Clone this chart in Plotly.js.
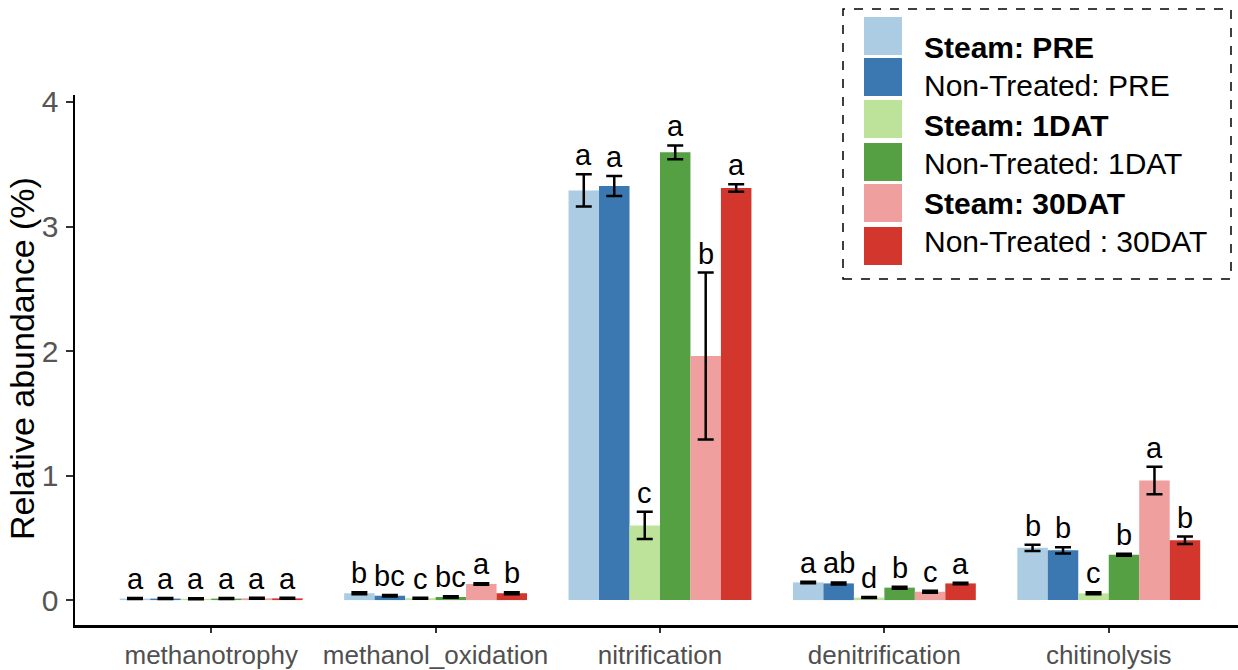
<!DOCTYPE html>
<html>
<head>
<meta charset="utf-8">
<script src="https://cdn.plot.ly/plotly-3.0.1.min.js"></script>
<style>html,body{margin:0;padding:0;background:#fff;}#chart{width:1238px;height:670px;}</style>
</head>
<body>
<div id="chart"></div>
<script>
const categories = ["methanotrophy", "methanol_oxidation", "nitrification", "denitrification", "chitinolysis"];
const seriesNames = ["Steam: PRE", "Non-Treated: PRE", "Steam: 1DAT", "Non-Treated: 1DAT", "Steam: 30DAT", "Non-Treated : 30DAT"];
const boldSeries = [true, false, true, false, true, false];
const colors = ["#abcce2", "#3b77b0", "#bde29a", "#55a043", "#ef9f9d", "#d2362d"];

const steamPRE   = [0.012, 0.055, 3.29, 0.142, 0.42];
const ntPRE      = [0.012, 0.035, 3.325, 0.134, 0.40];
const steam1DAT  = [0.010, 0.015, 0.60, 0.020, 0.054];
const nt1DAT     = [0.012, 0.025, 3.596, 0.100, 0.364];
const steam30DAT = [0.014, 0.130, 1.96, 0.067, 0.96];
const nt30DAT    = [0.014, 0.055, 3.31, 0.134, 0.48];

const errSteamPRE   = [0.004, 0.008, 0.13, 0.006, 0.025];
const errNtPRE      = [0.004, 0.006, 0.08, 0.008, 0.025];
const errSteam1DAT  = [0.004, 0.004, 0.11, 0.004, 0.008];
const errNt1DAT     = [0.004, 0.006, 0.055, 0.008, 0.008];
const errSteam30DAT = [0.004, 0.006, 0.67, 0.008, 0.11];
const errNt30DAT    = [0.004, 0.008, 0.03, 0.006, 0.03];

const lettersSteamPRE   = ["a", "b", "a", "a", "b"];
const lettersNtPRE      = ["a", "bc", "a", "ab", "b"];
const lettersSteam1DAT  = ["a", "c", "c", "d", "c"];
const lettersNt1DAT     = ["a", "bc", "a", "b", "b"];
const lettersSteam30DAT = ["a", "a", "b", "c", "a"];
const lettersNt30DAT    = ["a", "b", "a", "a", "b"];

const values = [steamPRE, ntPRE, steam1DAT, nt1DAT, steam30DAT, nt30DAT];
const errors = [errSteamPRE, errNtPRE, errSteam1DAT, errNt1DAT, errSteam30DAT, errNt30DAT];
const letters = [lettersSteamPRE, lettersNtPRE, lettersSteam1DAT, lettersNt1DAT, lettersSteam30DAT, lettersNt30DAT];

const bargap = 0.185;
const sans = "Liberation Sans, Arial, sans-serif";

const traces = seriesNames.map((name, j) => ({
  type: "bar",
  name: name,
  x: categories,
  y: values[j],
  marker: {color: colors[j], line: {width: 0}},
  error_y: {type: "data", array: errors[j], visible: true, color: "#000", thickness: 2.5, width: 8},
  showlegend: false
}));

const annotations = [];
const nS = seriesNames.length;
const barW = (1 - bargap) / nS;
categories.forEach((c, i) => {
  for (let j = 0; j < nS; j++) {
    annotations.push({
      xref: "x", yref: "y",
      x: i + (j - (nS - 1) / 2) * barW,
      y: values[j][i] + errors[j][i],
      text: letters[j][i],
      showarrow: false,
      xanchor: "center", yanchor: "bottom",
      yshift: 1,
      font: {family: sans, size: 29, color: "#000"}
    });
  }
});

// custom legend + y title (paper coords from the plot area: l=75, w=1163, t=95, h=530)
const L = 75, W = 1163, T = 95, H = 530;
const px = v => (v - L) / W;
const py = v => (T + H - v) / H;
const shapes = [{
  type: "rect", xref: "paper", yref: "paper",
  x0: px(843), x1: px(1231), y0: py(279), y1: py(9),
  line: {color: "#000", width: 1.5, dash: "dash"}, fillcolor: "rgba(0,0,0,0)"
}];
const swTop = [17, 58, 100, 143, 184, 227];
const txtY = [47, 85, 125, 163, 204, 241];
seriesNames.forEach((name, j) => {
  shapes.push({
    type: "rect", xref: "paper", yref: "paper",
    x0: px(864), x1: px(902), y0: py(swTop[j] + 38), y1: py(swTop[j]),
    line: {width: 0}, fillcolor: colors[j]
  });
  annotations.push({
    xref: "paper", yref: "paper", x: px(922), y: py(txtY[j]),
    xanchor: "left", yanchor: "middle", showarrow: false,
    text: boldSeries[j] ? "<b>" + name + "</b>" : name,
    font: {family: sans, size: 30, color: "#000"}
  });
});
annotations.push({
  xref: "paper", yref: "paper", x: px(22), y: py(359),
  xanchor: "center", yanchor: "middle", showarrow: false, textangle: -90,
  text: "Relative abundance (%)",
  font: {family: sans, size: 34, color: "#000"}
});

const layout = {
  width: 1238, height: 670,
  margin: {l: 75, r: 0, t: 95, b: 45},
  paper_bgcolor: "#fff", plot_bgcolor: "#fff",
  barmode: "group", bargap: bargap, bargroupgap: 0,
  showlegend: false,
  xaxis: {
    type: "category", range: [-0.607, 4.576],
    showline: true, linecolor: "#000", linewidth: 2.5,
    ticks: "outside", ticklen: 5, tickwidth: 2, tickcolor: "#333",
    showgrid: false, zeroline: false, tickangle: 0,
    ticklabelstandoff: 0,
    tickfont: {family: sans, size: 26, color: "#505050"}
  },
  yaxis: {
    range: [-0.2, 4.056],
    tickvals: [0, 1, 2, 3, 4],
    showline: true, linecolor: "#000", linewidth: 2.5,
    ticks: "outside", ticklen: 7, tickwidth: 2, tickcolor: "#333",
    showgrid: false, zeroline: false,
    ticklabelstandoff: 1,
    tickfont: {family: sans, size: 30, color: "#555555"}
  },
  annotations: annotations,
  shapes: shapes
};

Plotly.newPlot("chart", traces, layout, {displayModeBar: false, staticPlot: true});
</script>
</body>
</html>
